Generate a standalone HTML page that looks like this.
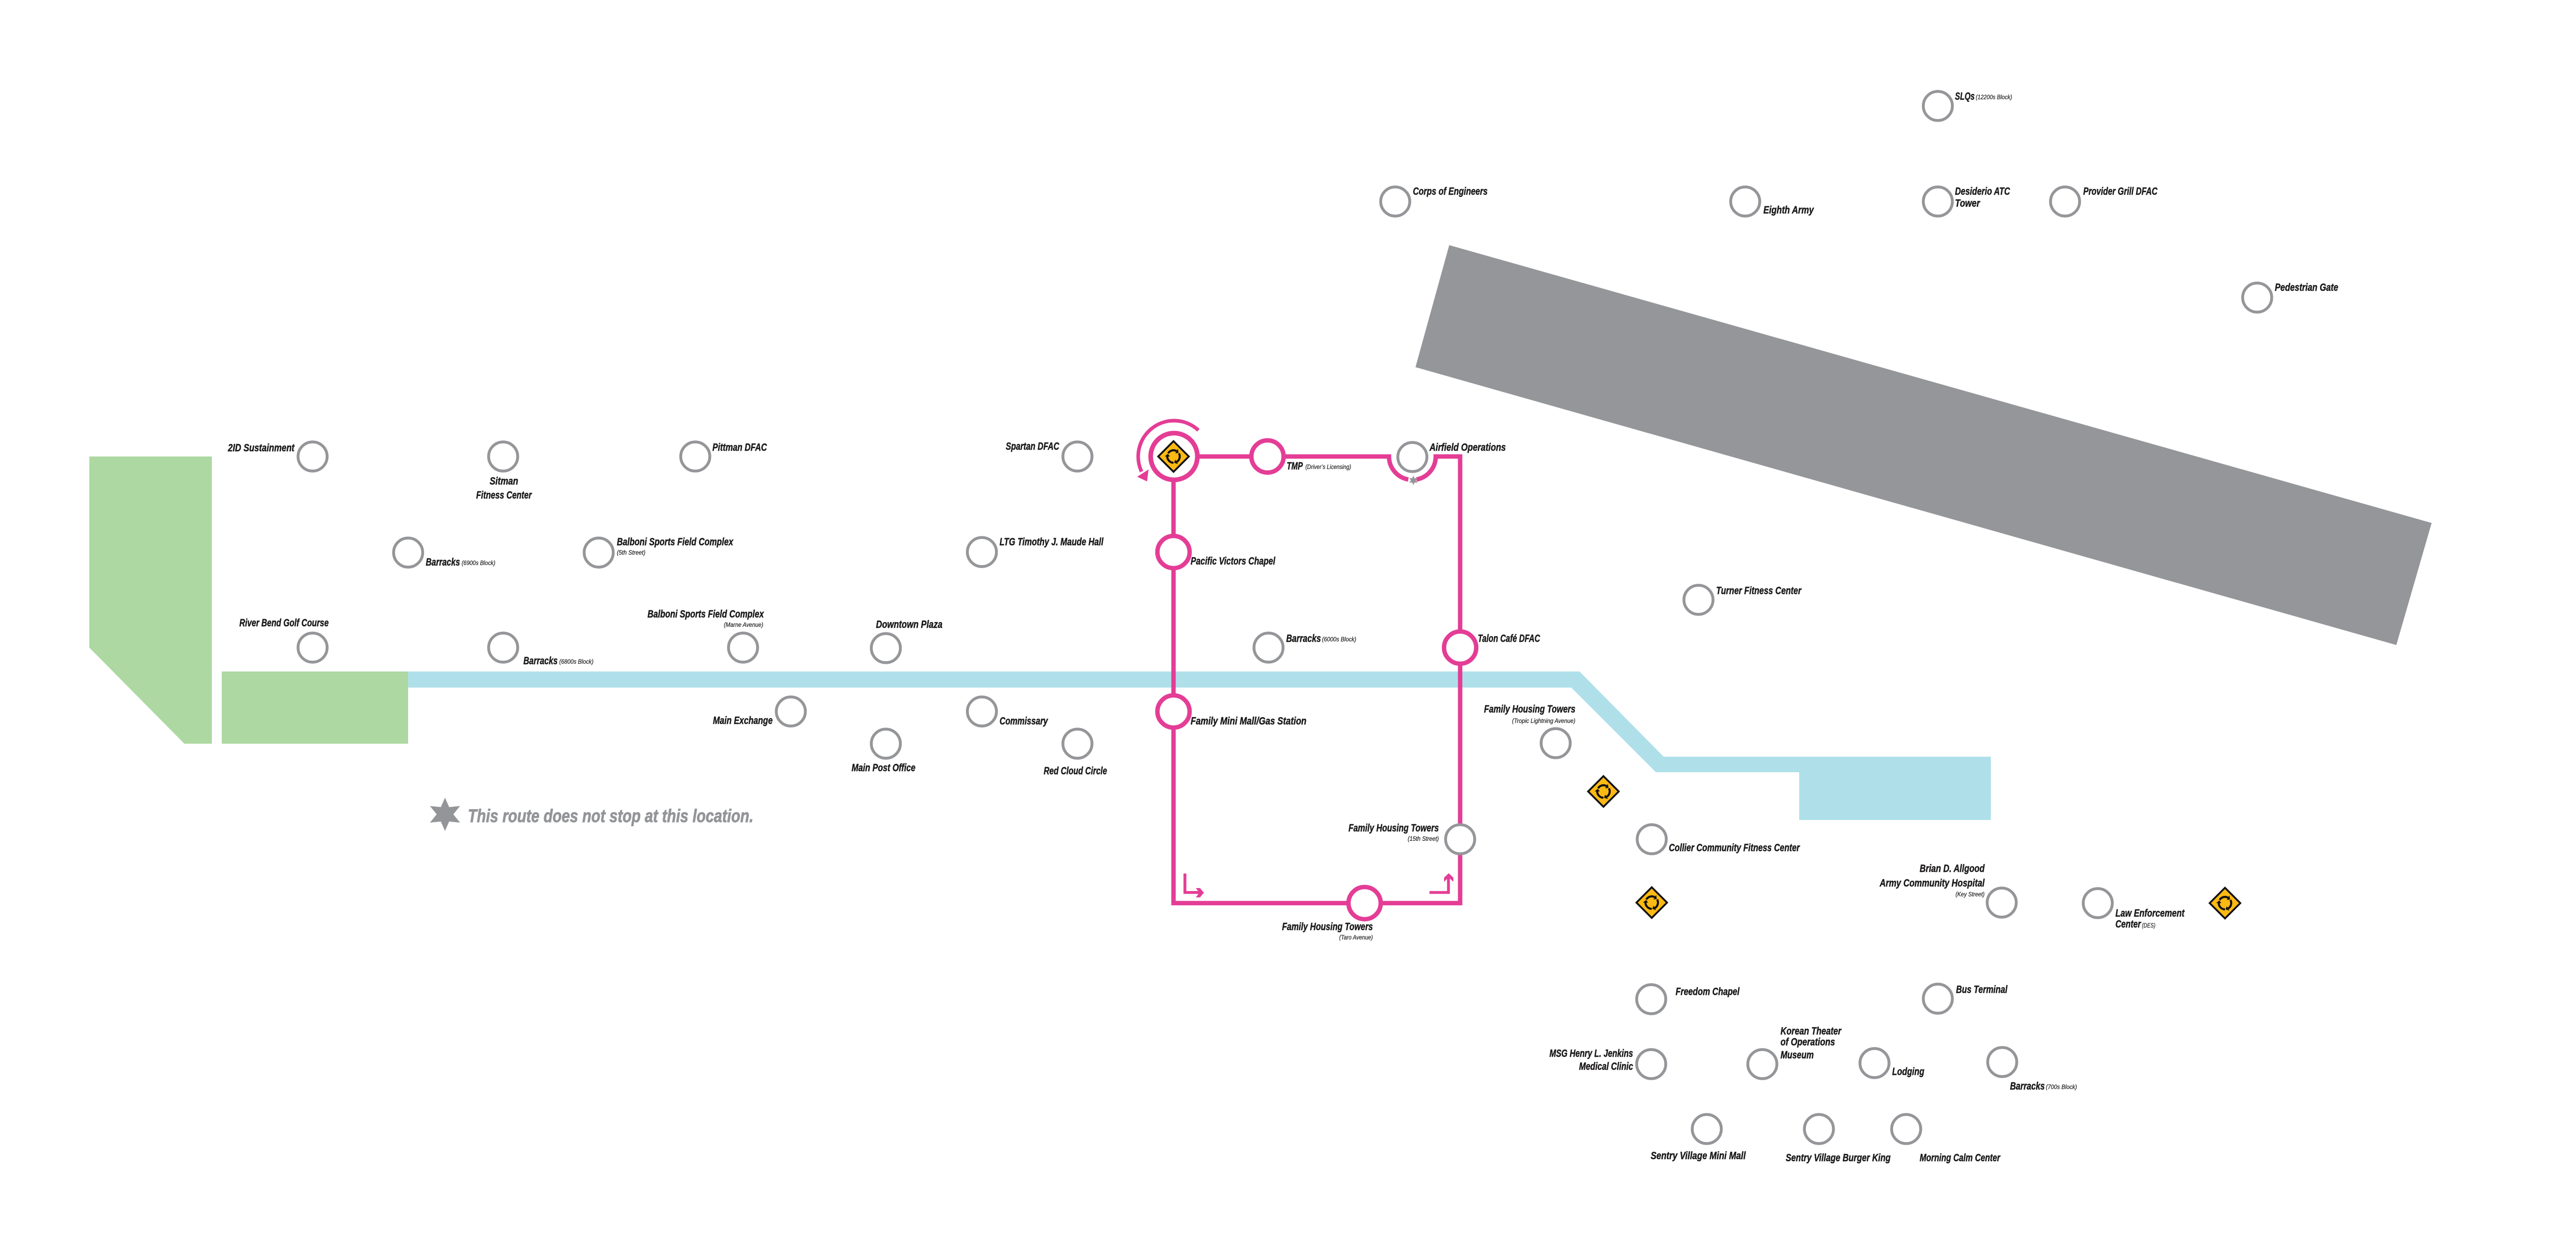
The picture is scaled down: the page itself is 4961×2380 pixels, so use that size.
<!DOCTYPE html>
<html>
<head>
<meta charset="utf-8">
<style>
html,body{margin:0;padding:0;background:#fff;}
svg{display:block;}
text{font-family:"Liberation Sans Narrow","Liberation Sans",sans-serif;font-style:italic;font-weight:bold;font-size:20px;fill:#1c1a1b;stroke:#1c1a1b;stroke-width:0.5px;}
text.s{font-weight:normal;font-size:12px;stroke-width:0.2px;}
text.lg{font-size:35px;fill:#939598;stroke:#939598;stroke-width:0.9px;}
</style>
</head>
<body>
<svg xmlns="http://www.w3.org/2000/svg" width="4961" height="2380" viewBox="0 0 4961 2380">
<defs>
<g id="rb">
<polygon points="0,-32 32,0 0,32 -32,0" fill="#111"/>
<polygon points="0,-27 27,0 0,27 -27,0" fill="#fdb913"/>
<g id="rbarm">
<path d="M10.39,-6 A12,12 0 0 1 6,10.39" fill="none" stroke="#111" stroke-width="4"/>
<polygon points="1.05,11.95 3.5,6.06 8.5,14.72" fill="#111"/>
</g>
<use href="#rbarm" transform="rotate(120)"/>
<use href="#rbarm" transform="rotate(240)"/>
</g>
</defs>

<!-- green areas -->
<polygon points="172,879 408,879 408,1432 355,1432 172,1247" fill="#add8a2"/>
<rect x="427" y="1293" width="359" height="139" fill="#add8a2"/>

<!-- blue river -->
<polygon points="786,1293 3042,1293 3204,1457 3834,1457 3834,1579 3465,1579 3465,1487 3189,1487 3026,1324 786,1324" fill="#afe0ea"/>

<!-- gray runway -->
<polygon points="2791,472 4683,1007 4615,1242 2726,707" fill="#959699"/>

<!-- pink route -->
<g fill="none" stroke="#e43d96" stroke-width="8.5" stroke-linejoin="miter" stroke-linecap="butt">
<path d="M2306,879 H2675 A45,45 0 0 0 2712.2,923.3"/>
<path d="M2727.8,923.3 A45,45 0 0 0 2765,879 H2812 V1739 H2260 V924"/>
<path d="M2308,828.5 A69,69 0 0 0 2198.5,908.2" stroke-width="7"/>
<path d="M2282,1682 V1718.5 H2310" stroke-width="5.5"/>
<path d="M2753,1718.5 H2789.5 V1688" stroke-width="5.5"/>
</g>
<polygon points="2190,918 2212,904 2209,927" fill="#e43d96"/>
<polygon points="2303,1710 2311,1710 2318.5,1719 2311,1728 2303,1728 2309.5,1719" fill="#e43d96"/>
<polygon points="2790,1681.5 2799,1690 2799,1698 2790,1689.5 2781,1698 2781,1690" fill="#e43d96"/>

<!-- pink stations -->
<g fill="#fff" stroke="#e43d96" stroke-width="8.5">
<circle cx="2261" cy="879" r="45" stroke-width="9"/>
<circle cx="2441" cy="879" r="31"/>
<circle cx="2260" cy="1063" r="31"/>
<circle cx="2260" cy="1370" r="31"/>
<circle cx="2812" cy="1247" r="31"/>
<circle cx="2628" cy="1739" r="31"/>
</g>

<!-- gray stops -->
<g fill="#fff" stroke="#959699" stroke-width="5.5">
<circle cx="602" cy="879" r="28"/>
<circle cx="969" cy="879" r="28"/>
<circle cx="1339" cy="879" r="28"/>
<circle cx="786" cy="1064" r="28"/>
<circle cx="1153" cy="1064" r="28"/>
<circle cx="602" cy="1247" r="28"/>
<circle cx="969" cy="1247" r="28"/>
<circle cx="1431" cy="1247" r="28"/>
<circle cx="1523" cy="1370" r="28"/>
<circle cx="2075" cy="879" r="28"/>
<circle cx="1891" cy="1063" r="28"/>
<circle cx="1706" cy="1248" r="28"/>
<circle cx="1891" cy="1370" r="28"/>
<circle cx="1706" cy="1432" r="28"/>
<circle cx="2075" cy="1432" r="28"/>
<circle cx="2443" cy="1247" r="28"/>
<circle cx="2720" cy="880" r="28"/>
<circle cx="2996" cy="1431" r="28"/>
<circle cx="2812" cy="1616" r="28"/>
<circle cx="3732" cy="204" r="28"/>
<circle cx="2687" cy="388" r="28"/>
<circle cx="3361" cy="388" r="28"/>
<circle cx="3732" cy="388" r="28"/>
<circle cx="3977" cy="388" r="28"/>
<circle cx="4347" cy="573" r="28"/>
<circle cx="3271" cy="1155" r="28"/>
<circle cx="3181" cy="1616" r="28"/>
<circle cx="3855" cy="1738" r="28"/>
<circle cx="4040" cy="1739" r="28"/>
<circle cx="3732" cy="1923" r="28"/>
<circle cx="3610" cy="2047" r="28"/>
<circle cx="3856" cy="2045" r="28"/>
<circle cx="3180" cy="1924" r="28"/>
<circle cx="3180" cy="2049" r="28"/>
<circle cx="3394" cy="2049" r="28"/>
<circle cx="3287" cy="2174" r="28"/>
<circle cx="3503" cy="2174" r="28"/>
<circle cx="3671" cy="2174" r="28"/>
</g>

<!-- stars -->
<polygon transform="translate(2722,925) scale(0.29)" points="0,-32 8,-13.86 27.71,-16 16,0 27.71,16 8,13.86 0,32 -8,13.86 -27.71,16 -16,0 -27.71,-16 -8,-13.86" fill="#959699"/>
<polygon transform="translate(857,1568)" points="0,-32 8,-13.86 29,-16 16,0 29,16 8,13.86 0,32 -8,13.86 -29,16 -16,0 -29,-16 -8,-13.86" fill="#939598"/>

<!-- roundabout signs -->
<use href="#rb" transform="translate(2260,879)"/>
<use href="#rb" transform="translate(3088,1524)"/>
<use href="#rb" transform="translate(3181,1738)"/>
<use href="#rb" transform="translate(4285,1739)"/>

<!-- labels -->
<text x="439" y="869" textLength="128" lengthAdjust="spacingAndGlyphs">2ID Sustainment</text>
<text x="943" y="933" textLength="55" lengthAdjust="spacingAndGlyphs">Sitman</text>
<text x="917" y="960" textLength="107" lengthAdjust="spacingAndGlyphs">Fitness Center</text>
<text x="1372" y="868" textLength="105" lengthAdjust="spacingAndGlyphs">Pittman DFAC</text>
<text x="820" y="1089" textLength="66" lengthAdjust="spacingAndGlyphs">Barracks</text>
<text class="s" x="889" y="1088" textLength="65" lengthAdjust="spacingAndGlyphs">(6900s Block)</text>
<text x="1188" y="1050" textLength="224" lengthAdjust="spacingAndGlyphs">Balboni Sports Field Complex</text>
<text class="s" x="1188" y="1068" textLength="55" lengthAdjust="spacingAndGlyphs">(5th Street)</text>
<text x="461" y="1206" textLength="172" lengthAdjust="spacingAndGlyphs">River Bend Golf Course</text>
<text x="1008" y="1279" textLength="66" lengthAdjust="spacingAndGlyphs">Barracks</text>
<text class="s" x="1077" y="1278" textLength="66" lengthAdjust="spacingAndGlyphs">(6800s Block)</text>
<text x="1247" y="1189" textLength="224" lengthAdjust="spacingAndGlyphs">Balboni Sports Field Complex</text>
<text class="s" x="1394" y="1207" textLength="76" lengthAdjust="spacingAndGlyphs">(Marne Avenue)</text>
<text x="1373" y="1394" textLength="115" lengthAdjust="spacingAndGlyphs">Main Exchange</text>
<text x="1937" y="866" textLength="103" lengthAdjust="spacingAndGlyphs">Spartan DFAC</text>
<text x="1925" y="1050" textLength="200" lengthAdjust="spacingAndGlyphs">LTG Timothy J. Maude Hall</text>
<text x="1687" y="1209" textLength="128" lengthAdjust="spacingAndGlyphs">Downtown Plaza</text>
<text x="1925" y="1395" textLength="93" lengthAdjust="spacingAndGlyphs">Commissary</text>
<text x="1640" y="1485" textLength="123" lengthAdjust="spacingAndGlyphs">Main Post Office</text>
<text x="2010" y="1491" textLength="122" lengthAdjust="spacingAndGlyphs">Red Cloud Circle</text>
<text x="2478" y="904" textLength="31" lengthAdjust="spacingAndGlyphs">TMP</text>
<text class="s" x="2514" y="903" textLength="88" lengthAdjust="spacingAndGlyphs">(Driver’s Licensing)</text>
<text x="2753" y="868" textLength="147" lengthAdjust="spacingAndGlyphs">Airfield Operations</text>
<text x="2293" y="1087" textLength="163" lengthAdjust="spacingAndGlyphs">Pacific Victors Chapel</text>
<text x="2477" y="1236" textLength="67" lengthAdjust="spacingAndGlyphs">Barracks</text>
<text class="s" x="2546" y="1235" textLength="66" lengthAdjust="spacingAndGlyphs">(6000s Block)</text>
<text x="2846" y="1236" textLength="120" lengthAdjust="spacingAndGlyphs">Talon Café DFAC</text>
<text x="2293" y="1395" textLength="223" lengthAdjust="spacingAndGlyphs">Family Mini Mall/Gas Station</text>
<text x="2858" y="1372" textLength="176" lengthAdjust="spacingAndGlyphs">Family Housing Towers</text>
<text class="s" x="2912" y="1392" textLength="122" lengthAdjust="spacingAndGlyphs">(Tropic Lightning Avenue)</text>
<text x="2597" y="1601" textLength="174" lengthAdjust="spacingAndGlyphs">Family Housing Towers</text>
<text class="s" x="2711" y="1619" textLength="60" lengthAdjust="spacingAndGlyphs">(15th Street)</text>
<text x="2469" y="1791" textLength="175" lengthAdjust="spacingAndGlyphs">Family Housing Towers</text>
<text class="s" x="2579" y="1809" textLength="65" lengthAdjust="spacingAndGlyphs">(Taro Avenue)</text>
<text x="3765" y="192" textLength="38" lengthAdjust="spacingAndGlyphs">SLQs</text>
<text class="s" x="3805" y="191" textLength="70" lengthAdjust="spacingAndGlyphs">(12200s Block)</text>
<text x="2721" y="375" textLength="144" lengthAdjust="spacingAndGlyphs">Corps of Engineers</text>
<text x="3396" y="411" textLength="97" lengthAdjust="spacingAndGlyphs">Eighth Army</text>
<text x="3765" y="375" textLength="106" lengthAdjust="spacingAndGlyphs">Desiderio ATC</text>
<text x="3765" y="398" textLength="48" lengthAdjust="spacingAndGlyphs">Tower</text>
<text x="4012" y="375" textLength="143" lengthAdjust="spacingAndGlyphs">Provider Grill DFAC</text>
<text x="4381" y="560" textLength="122" lengthAdjust="spacingAndGlyphs">Pedestrian Gate</text>
<text x="3305" y="1144" textLength="164" lengthAdjust="spacingAndGlyphs">Turner Fitness Center</text>
<text x="3214" y="1639" textLength="252" lengthAdjust="spacingAndGlyphs">Collier Community Fitness Center</text>
<text x="3697" y="1679" textLength="125" lengthAdjust="spacingAndGlyphs">Brian D. Allgood</text>
<text x="3620" y="1707" textLength="202" lengthAdjust="spacingAndGlyphs">Army Community Hospital</text>
<text class="s" x="3766" y="1726" textLength="56" lengthAdjust="spacingAndGlyphs">(Key Street)</text>
<text x="4074" y="1765" textLength="133" lengthAdjust="spacingAndGlyphs">Law Enforcement</text>
<text x="4074" y="1786" textLength="49" lengthAdjust="spacingAndGlyphs">Center</text>
<text class="s" x="4125" y="1786" textLength="26" lengthAdjust="spacingAndGlyphs">(DES)</text>
<text x="3767" y="1912" textLength="99" lengthAdjust="spacingAndGlyphs">Bus Terminal</text>
<text x="3644" y="2070" textLength="62" lengthAdjust="spacingAndGlyphs">Lodging</text>
<text x="3871" y="2098" textLength="67" lengthAdjust="spacingAndGlyphs">Barracks</text>
<text class="s" x="3940" y="2097" textLength="60" lengthAdjust="spacingAndGlyphs">(700s Block)</text>
<text x="3227" y="1916" textLength="123" lengthAdjust="spacingAndGlyphs">Freedom Chapel</text>
<text x="2984" y="2035" textLength="161" lengthAdjust="spacingAndGlyphs">MSG Henry L. Jenkins</text>
<text x="3041" y="2060" textLength="104" lengthAdjust="spacingAndGlyphs">Medical Clinic</text>
<text x="3429" y="1992" textLength="117" lengthAdjust="spacingAndGlyphs">Korean Theater</text>
<text x="3429" y="2013" textLength="105" lengthAdjust="spacingAndGlyphs">of Operations</text>
<text x="3429" y="2038" textLength="64" lengthAdjust="spacingAndGlyphs">Museum</text>
<text x="3179" y="2232" textLength="183" lengthAdjust="spacingAndGlyphs">Sentry Village Mini Mall</text>
<text x="3439" y="2236" textLength="202" lengthAdjust="spacingAndGlyphs">Sentry Village Burger King</text>
<text x="3697" y="2236" textLength="155" lengthAdjust="spacingAndGlyphs">Morning Calm Center</text>

<text class="lg" x="901" y="1583" textLength="550" lengthAdjust="spacingAndGlyphs">This route does not stop at this location.</text>
</svg>
</body>
</html>
